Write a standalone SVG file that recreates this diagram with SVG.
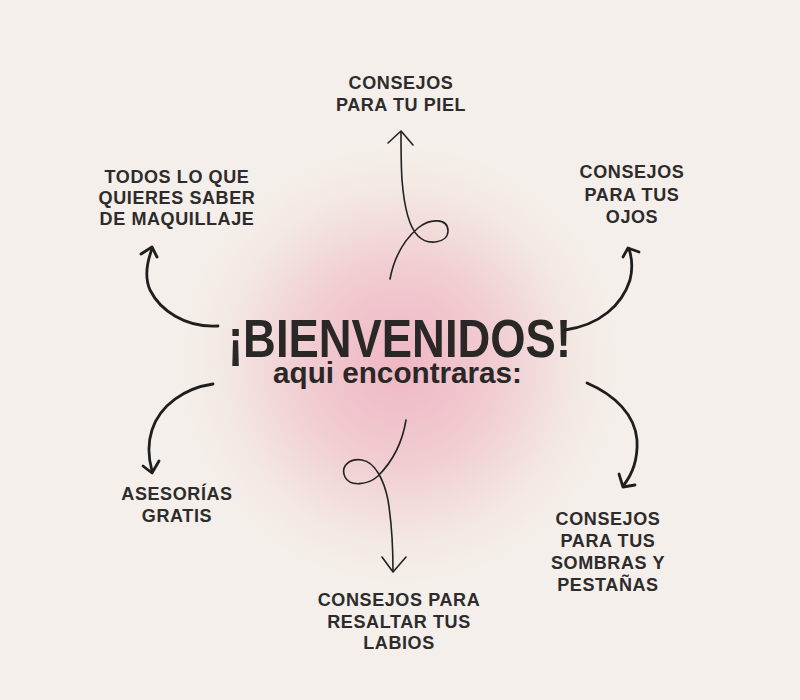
<svg xmlns="http://www.w3.org/2000/svg" width="800" height="700" viewBox="0 0 800 700">
<defs>
<radialGradient id="glow" gradientUnits="userSpaceOnUse" cx="400" cy="365" r="220">
<stop offset="0" stop-color="#efb6c3"/>
<stop offset="0.45" stop-color="#f1cdd2"/>
<stop offset="0.8" stop-color="#f3e8e4"/>
<stop offset="1" stop-color="#f4efea"/>
</radialGradient>
<style>
.lbl{font-family:"Liberation Sans",Arial,sans-serif;font-weight:bold;font-size:18px;fill:#2d2b2b;text-anchor:middle;letter-spacing:0.6px}
.title{font-family:"Liberation Sans",Arial,sans-serif;font-weight:bold;fill:#2a2727}
.thin{fill:none;stroke:#222;stroke-width:1.6;stroke-linecap:round;stroke-linejoin:round}
.thick{fill:none;stroke:#1e1e1e;stroke-width:2.8;stroke-linecap:round;stroke-linejoin:round}
</style>
</defs>
<rect width="800" height="700" fill="#f4efea"/>
<rect width="800" height="700" fill="url(#glow)"/>

<g id="center">
<text class="title" x="228" y="357" font-size="53" textLength="343" lengthAdjust="spacingAndGlyphs">¡BIENVENIDOS!</text>
<text class="title" x="273" y="383" font-size="30" textLength="249" lengthAdjust="spacingAndGlyphs">aqui encontraras:</text>
</g>

<g id="node-piel">
<text class="lbl" x="401" y="89" letter-spacing="1">CONSEJOS</text>
<text class="lbl" x="401" y="111">PARA TU PIEL</text>
</g>
<g id="node-maquillaje">
<text class="lbl" x="177" y="183">TODOS LO QUE</text>
<text class="lbl" x="177" y="204">QUIERES SABER</text>
<text class="lbl" x="177" y="225">DE MAQUILLAJE</text>
</g>
<g id="node-ojos">
<text class="lbl" x="632" y="178" letter-spacing="1">CONSEJOS</text>
<text class="lbl" x="632" y="201">PARA TUS</text>
<text class="lbl" x="632" y="223">OJOS</text>
</g>
<g id="node-asesorias">
<text class="lbl" x="177" y="500">ASESORÍAS</text>
<text class="lbl" x="177" y="522">GRATIS</text>
</g>
<g id="node-sombras">
<text class="lbl" x="608" y="525" letter-spacing="1">CONSEJOS</text>
<text class="lbl" x="608" y="547">PARA TUS</text>
<text class="lbl" x="608" y="569">SOMBRAS Y</text>
<text class="lbl" x="608" y="591">PESTAÑAS</text>
</g>
<g id="node-labios">
<text class="lbl" x="399" y="606">CONSEJOS PARA</text>
<text class="lbl" x="399" y="628">RESALTAR TUS</text>
<text class="lbl" x="399" y="649">LABIOS</text>
</g>

<g id="connectors">
<path class="thin" d="M390,279 C394,258 404,240 418,228 C430,218 448,218 448,231 C448,243 428,246 418,236 C408,226 404,205 402,180 C401,165 401,150 401,132"/>
<polyline class="thin" points="388,143 401,131 413,145"/>

<path class="thick" d="M218,326 C185,328 160,310 150,290 C144,276 147,262 152,249"/>
<polyline class="thick" points="141,254 152,247 157,257"/>

<path class="thick" d="M565,330 C600,325 622,305 630,280 C633,268 632,258 629,249"/>
<polyline class="thick" points="623,257 628,248 639,252"/>

<path class="thick" d="M213,384 C185,388 160,405 152,430 C147,445 149,460 152,471"/>
<polyline class="thick" points="143,466 152,473 159,461"/>

<path class="thick" d="M587,383 C615,395 635,415 637,440 C638,460 632,475 623,486"/>
<polyline class="thick" points="619,474 623,487 635,485"/>

<path class="thin" d="M406,420 C402,445 392,462 378,476 C368,485 350,487 345,477 C340,466 350,458 362,460 C375,462 384,480 388,500 C392,525 393,550 393,571"/>
<polyline class="thin" points="382,557 393,572 406,557"/>
</g>
</svg>
